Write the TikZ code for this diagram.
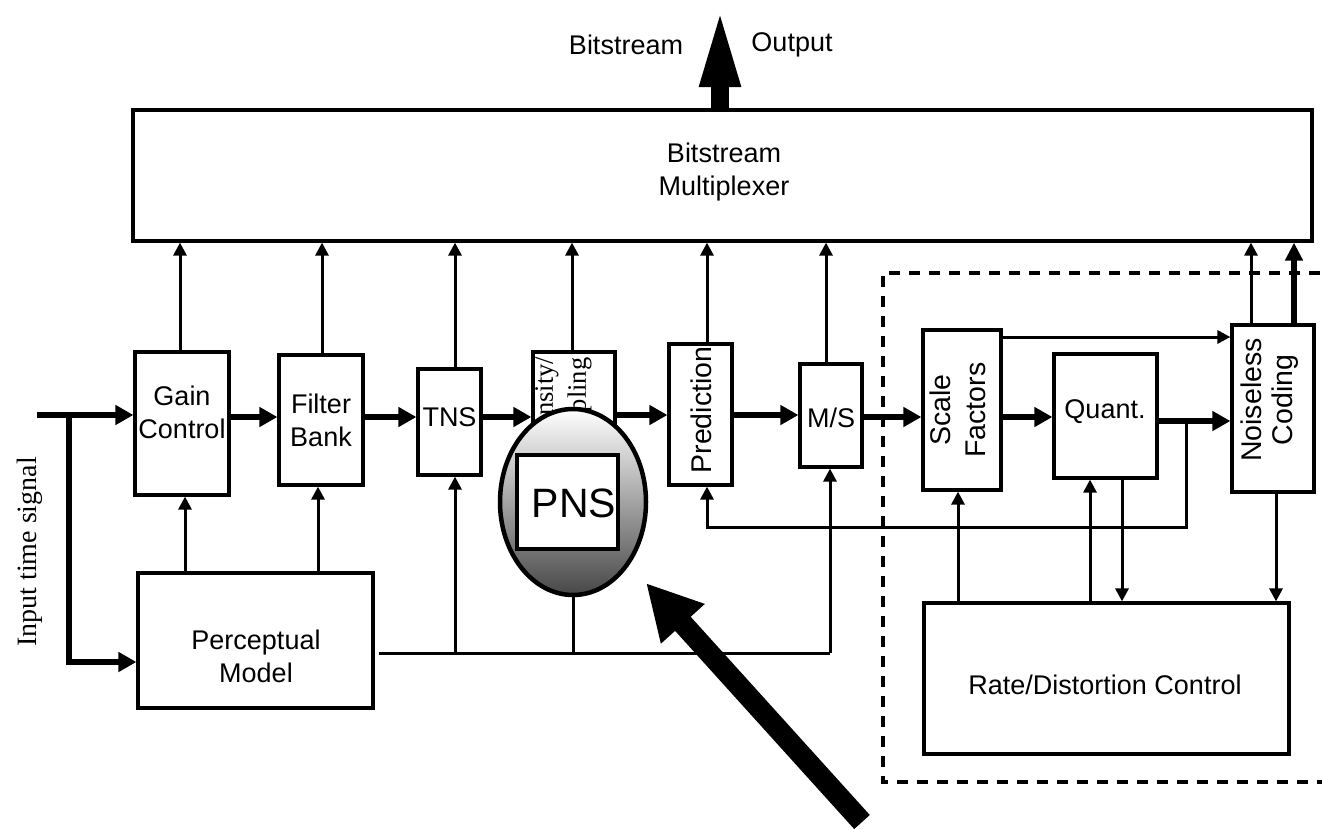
\documentclass[tikz,border=0pt]{standalone}
\usepackage{fontspec}
\setmainfont{Liberation Serif}
\newfontfamily\arialf{Liberation Sans}
\usetikzlibrary{arrows.meta,shapes.geometric}
\tikzset{
  blk/.style={draw, line width=3.2pt, fill=white, rectangle, inner sep=0pt},
  txt/.style={font=\arialf\fontsize{27}{33}\selectfont, align=center, inner sep=0pt},
  rtxt/.style={font=\arialf\fontsize{28.5}{32}\selectfont, align=center, inner sep=0pt, rotate=90},
  sertxt/.style={font=\fontsize{26.5}{33}\selectfont, align=center, inner sep=0pt, rotate=90},
  thinarr/.style={line width=3pt, -{Triangle[width=13pt,length=13pt]}},
  thinln/.style={line width=3pt},
  thickarr/.style={line width=6pt, -{Triangle[width=19pt,length=18pt]}},
}
\begin{document}
\begin{tikzpicture}[x=1pt,y=-1pt]
\useasboundingbox (0,0) rectangle (1322,828);

% dashed region
\draw[line width=4.5pt, dash pattern=on 11pt off 9pt] (1340,273) -- (883,273) -- (883,782) -- (1340,782);

% blocks
\node[blk, minimum width=1179pt, minimum height=131pt] (mux) at (722.5,175.5) {};
\node[txt] at (724,172) {Bitstream\\Multiplexer};

\node[blk, minimum width=94pt, minimum height=143pt] (gain) at (182,423.5) {};
\node[txt] at (182,412) {Gain\\Control};

\node[blk, minimum width=84pt, minimum height=130pt] (filt) at (321,420) {};
\node[txt] at (321,420) {Filter\\Bank};

\node[blk, minimum width=63pt, minimum height=106pt] (tns) at (449.5,422) {};
\node[txt] at (449.5,417) {TNS};

\node[blk, minimum width=82pt, minimum height=108pt] (inten) at (574,406) {};
\node[sertxt] at (563.5,407) {Intensity/\\Coupling};

\node[blk, minimum width=63pt, minimum height=141pt] (pred) at (700.5,414.5) {};
\node[rtxt] at (701,410) {Prediction};

\node[blk, minimum width=62pt, minimum height=103pt] (ms) at (831,415.5) {};
\node[txt] at (831,418) {M/S};

\node[blk, minimum width=78pt, minimum height=160pt] (scale) at (962,410) {};
\node[rtxt, font=\arialf\fontsize{28.5}{35}\selectfont] at (958,410) {Scale\\Factors};

\node[blk, minimum width=103pt, minimum height=124pt] (quant) at (1105.5,416) {};
\node[txt] at (1105,412) {Quant.};

\node[blk, minimum width=82pt, minimum height=167pt] (noise) at (1273,408.5) {};
\node[rtxt, font=\arialf\fontsize{28.5}{31}\selectfont] at (1270,400) {Noiseless\\Coding};

\node[blk, minimum width=365pt, minimum height=151pt] (rate) at (1106.5,678.5) {};
\node[txt] at (1105,685) {Rate/Distortion Control};

\node[blk, minimum width=235pt, minimum height=135pt] (perc) at (255.5,640.5) {};
\node[txt] at (256,656) {Perceptual\\Model};

% input
\node[sertxt, font=\fontsize{28}{33}\selectfont] at (30,552) {Input time signal};
\coordinate (in) at (37,415);
\coordinate (br) at (69,415);
\draw[thickarr] (in) -- (gain.west |- in);
\draw[thickarr] (br) |- (perc.west |- 0,662);

% main chain thick arrows
\draw[thickarr] (gain.east |- 0,417) -- (filt.west |- 0,417);
\draw[thickarr] (filt.east |- 0,417) -- (tns.west |- 0,417);
\draw[thickarr] (tns.east |- 0,417) -- (inten.west |- 0,417);
\draw[thickarr] (inten.east |- 0,415) -- (pred.west |- 0,415);
\draw[thickarr] (pred.east |- 0,415) -- (ms.west |- 0,415);
\draw[thickarr] (ms.east |- 0,417) -- (scale.west |- 0,417);
\draw[thickarr] (scale.east |- 0,417) -- (quant.west |- 0,417);
\draw[thickarr] (quant.east |- 0,421) -- (noise.west |- 0,421);

% up to multiplexer
\draw[thinarr] (gain.north -| 180,0) -- (mux.south -| 180,0);
\draw[thinarr] (filt.north -| 322,0) -- (mux.south -| 322,0);
\draw[thinarr] (tns.north -| 455,0) -- (mux.south -| 455,0);
\draw[thinarr] (inten.north -| 572,0) -- (mux.south -| 572,0);
\draw[thinarr] (pred.north -| 707,0) -- (mux.south -| 707,0);
\draw[thinarr] (ms.north -| 826,0) -- (mux.south -| 826,0);
\draw[thinarr] (noise.north -| 1251,0) -- (mux.south -| 1251,0);
\draw[line width=5.5pt, -{Triangle[width=17pt,length=18pt]}] (noise.north -| 1294,0) -- (mux.south -| 1294,0);

% perceptual model feeds
\draw[thinarr] (perc.north -| 185,0) -- (gain.south -| 185,0);
\draw[thinarr] (perc.north -| 318,0) -- (filt.south -| 318,0);
\coordinate (pj) at (830,653);
\coordinate (t1) at (455,653);
\coordinate (p1) at (573,653);
\draw[thinln] ([xshift=4pt]perc.east |- pj) -- (pj);
\draw[thinarr] (pj) -- (ms.south -| pj);
\draw[thinarr] (t1) -- (tns.south -| t1);

% PNS
\node[ellipse, draw, line width=4.5pt, top color=white, bottom color=black!72,
      minimum width=146pt, minimum height=186pt, inner sep=0pt] (pns) at (573,502) {};
\node[blk, minimum width=101pt, minimum height=94pt] (pnsbox) at (567.5,502) {};
\node[txt, font=\arialf\fontsize{41}{44}\selectfont] at (574,503) {PNS};
\draw[thinln] (p1) -- (pns.south);

% feedback to prediction
\coordinate (fb1) at (1186,421);
\coordinate (fb2) at (1186,527);
\draw[thinarr] (fb1) -- (fb2) -- (fb2 -| 707,0) -- (pred.south -| 707,0);

% right part
\draw[thinarr] (scale.east |- 0,337) -- (noise.west |- 0,337);
\draw[thinarr] (noise.south -| 1276,0) -- (rate.north -| 1276,0);
\draw[thinarr] (rate.north -| 958,0) -- (scale.south -| 958,0);
\draw[thinarr] (rate.north -| 1090,0) -- (quant.south -| 1090,0);
\draw[thinarr] (quant.south -| 1122,0) -- (rate.north -| 1122,0);

% bitstream output
\coordinate (otip) at (720,5);
\draw[line width=18pt, -{Triangle[width=36pt,length=82pt]}] (mux.north -| otip) -- (otip);
\node[txt] at (626,45) {Bitstream};
\node[txt] at (792,45) {Output};

% big pointer arrow
\coordinate (dtail) at (862,822);
\coordinate (dtip) at (646,583);
\draw[line width=21pt, -{Triangle[width=55pt,length=55pt]}] (dtail) -- (dtip);
\end{tikzpicture}
\end{document}
